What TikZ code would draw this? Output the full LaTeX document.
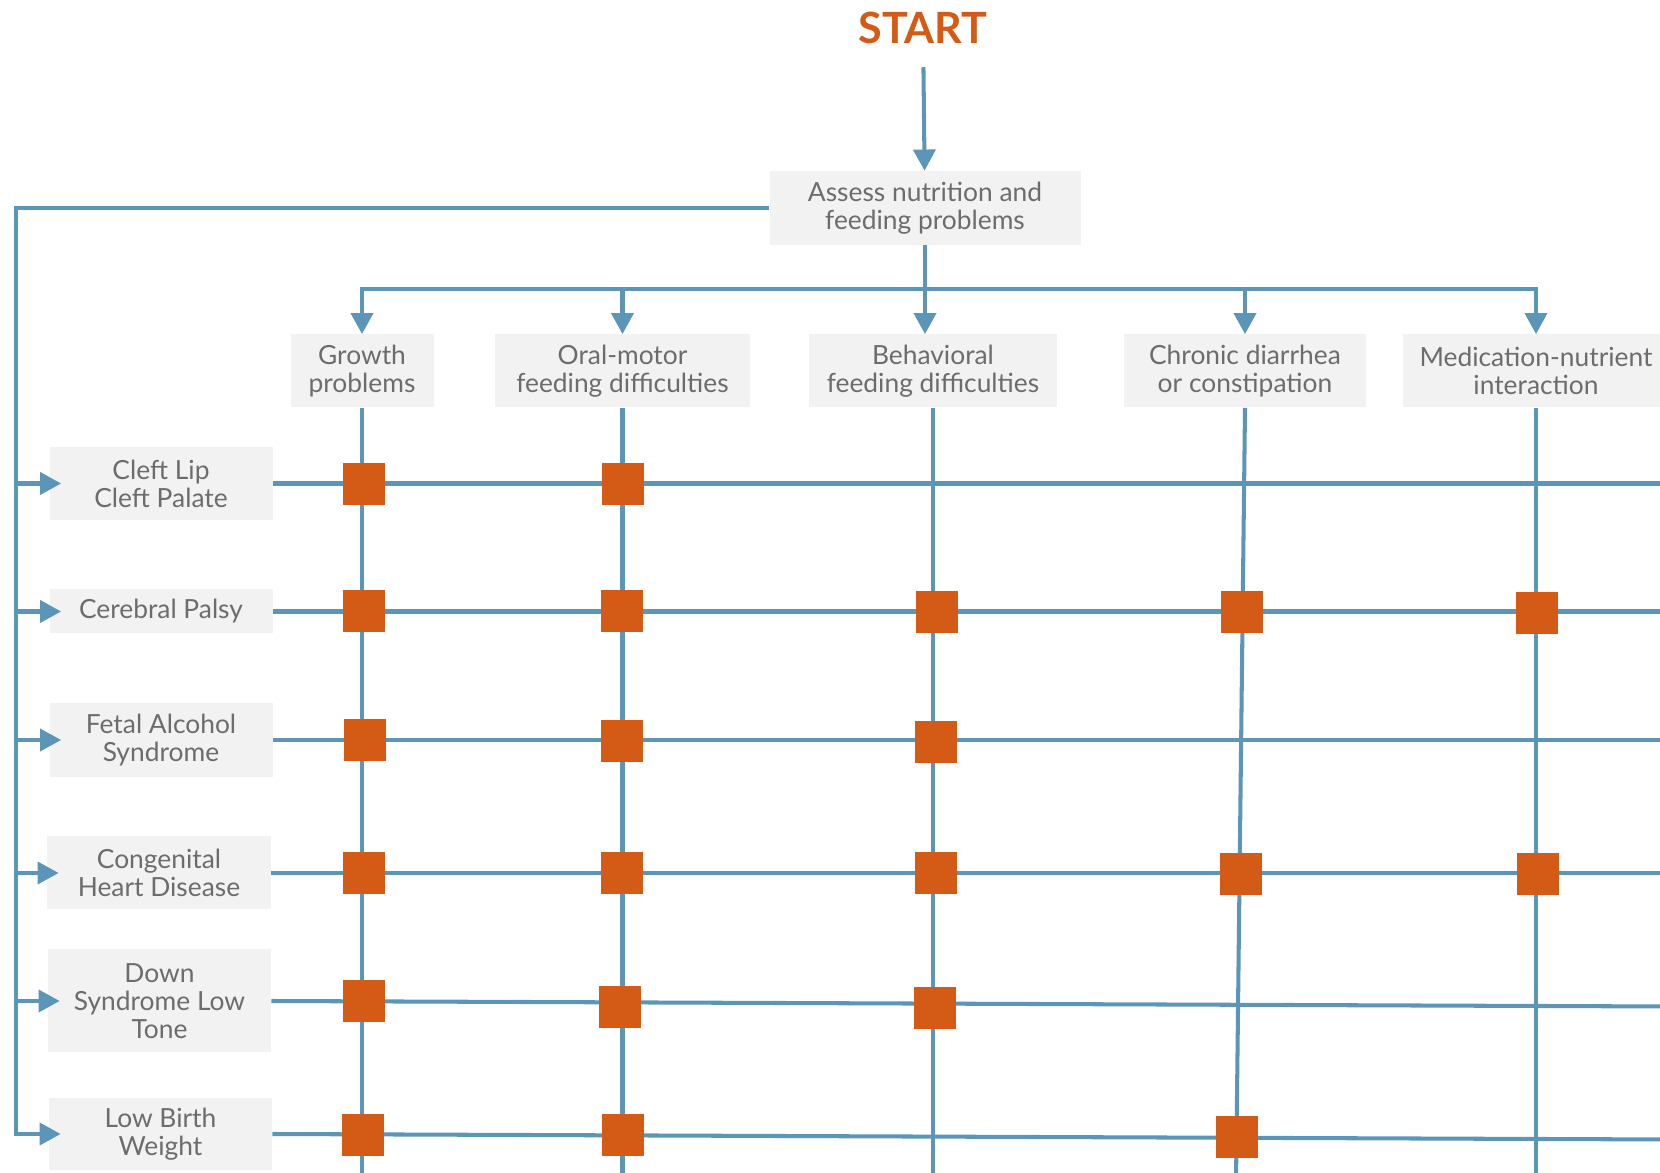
\documentclass[tikz,border=0pt]{standalone}
\usepackage{fontspec}
\setmainfont{Lato}
\usetikzlibrary{arrows.meta}

\definecolor{lineblue}{HTML}{5B96B9}
\definecolor{hitorange}{HTML}{D45B15}
\definecolor{boxgray}{HTML}{F2F2F2}
\definecolor{textgray}{HTML}{6C6C6C}

\tikzset{
  flow/.style={draw=lineblue, line width=2.3pt},
  arrowflow/.style={flow, -{Triangle[width=12.5pt,length=12pt]}},
  box/.style={fill=boxgray, text=textgray, align=center, inner sep=0pt,
    font=\fontsize{15}{16}\selectfont},
  hit/.style={fill=hitorange, minimum size=0.84cm, inner sep=0pt},
}

\begin{document}
\begin{tikzpicture}
\useasboundingbox (0,0) rectangle (33.200,23.440);

\node[text=hitorange, inner sep=0pt, font=\fontsize{24.5}{28}\selectfont\bfseries] (start) at (18.460,22.880) {START};
\node[box, minimum width=6.22cm, minimum height=1.48cm] (assess) at (18.500,19.280) {Assess nutrition and\\feeding problems};
\draw[arrowflow, shorten <=0.46cm] (start) -- (assess);

\node[box, minimum width=2.86cm, minimum height=1.46cm] (growth) at (7.240,16.020) {Growth\\problems};
\node[box, minimum width=5.10cm, minimum height=1.46cm] (oral) at (12.450,16.020) {Oral-motor\\feeding difficulties};
\node[box, minimum width=4.96cm, minimum height=1.46cm] (behav) at (18.660,16.020) {Behavioral\\feeding difficulties};
\node[box, minimum width=4.84cm, minimum height=1.46cm] (chronic) at (24.900,16.020) {Chronic diarrhea\\or constipation};
\node[box, minimum width=5.32cm, minimum height=1.46cm] (medic) at (30.720,16.020) {Medication-nutrient\\interaction};

\coordinate (bus) at (18.500,17.660);
\draw[arrowflow] (assess.south) -- (assess.south |- behav.north);
\draw[arrowflow] (bus) -| (growth.north);
\draw[arrowflow] (bus) -| (medic.north);
\draw[arrowflow] (oral.north |- bus) -- (oral.north);
\draw[arrowflow] (chronic.north |- bus) -- (chronic.north);

\node[box, minimum width=4.46cm, minimum height=1.46cm] (cleft) at (3.220,13.770) {Cleft Lip\\Cleft Palate};
\node[box, minimum width=4.46cm, minimum height=0.88cm] (cp) at (3.220,11.210) {Cerebral Palsy};
\node[box, minimum width=4.46cm, minimum height=1.48cm] (fas) at (3.220,8.640) {Fetal Alcohol\\Syndrome};
\node[box, minimum width=4.48cm, minimum height=1.46cm] (chd) at (3.180,5.980) {Congenital\\Heart Disease};
\node[box, minimum width=4.46cm, minimum height=2.06cm] (down) at (3.190,3.420) {Down\\Syndrome Low\\Tone};
\node[box, minimum width=4.46cm, minimum height=1.44cm] (lbw) at (3.210,0.760) {Low Birth\\Weight};

\coordinate (trunk) at (0.320,19.280);
\draw[arrowflow, shorten >=-0.24cm] (assess.west) -- (trunk) |- (lbw.west);
\draw[arrowflow, shorten >=-0.24cm] (trunk |- cleft.west) -- (cleft.west);
\draw[arrowflow, shorten >=-0.24cm] (trunk |- cp.west) -- (cp.west);
\draw[arrowflow, shorten >=-0.24cm] (trunk |- fas.west) -- (fas.west);
\draw[arrowflow, shorten >=-0.24cm] (trunk |- chd.west) -- (chd.west);
\draw[arrowflow, shorten >=-0.24cm] (trunk |- down.west) -- (down.west);

\coordinate (edge) at (33.400,0);
\coordinate (floor) at (0,-0.200);
\draw[flow] (cleft.east) -- (cleft.east -| edge);
\draw[flow] (cp.east) -- (cp.east -| edge);
\draw[flow] (fas.east) -- (fas.east -| edge);
\draw[flow] (chd.east) -- (chd.east -| edge);
\draw[flow] (down.east) -- (33.400,3.310);
\draw[flow] (lbw.east) -- (33.400,0.650);

\draw[flow] (growth.south) -- (growth.south |- floor);
\draw[flow] (oral.south) -- (oral.south |- floor);
\draw[flow] (behav.south) -- (behav.south |- floor);
\draw[flow] (chronic.south) -- (24.720,-0.200);
\draw[flow] (medic.south) -- (medic.south |- floor);

\node[hit] (cleft-g) at (7.284,13.764) {};
\node[hit] (cleft-o) at (12.450,13.764) {};

\node[hit] (cp-g) at (7.284,11.222) {};
\node[hit] (cp-o) at (12.430,11.222) {};
\node[hit] (cp-b) at (18.738,11.202) {};
\node[hit] (cp-c) at (24.838,11.202) {};
\node[hit] (cp-m) at (30.744,11.180) {};

\node[hit] (fas-g) at (7.306,8.640) {};
\node[hit] (fas-o) at (12.430,8.618) {};
\node[hit] (fas-b) at (18.718,8.598) {};

\node[hit] (chd-g) at (7.284,5.972) {};
\node[hit] (chd-o) at (12.430,5.972) {};
\node[hit] (chd-b) at (18.718,5.972) {};
\node[hit] (chd-c) at (24.816,5.950) {};
\node[hit] (chd-m) at (30.766,5.950) {};

\node[hit] (down-g) at (7.284,3.410) {};
\node[hit] (down-o) at (12.408,3.304) {};
\node[hit] (down-b) at (18.696,3.282) {};

\node[hit] (lbw-g) at (7.262,0.742) {};
\node[hit] (lbw-o) at (12.450,0.742) {};
\node[hit] (lbw-c) at (24.732,0.700) {};
\end{tikzpicture}
\end{document}
